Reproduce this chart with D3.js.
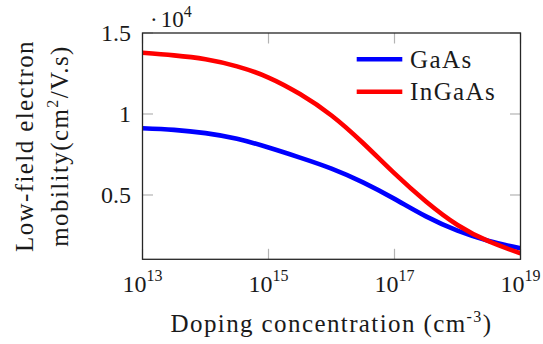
<!DOCTYPE html>
<html>
<head>
<meta charset="utf-8">
<script src="https://cdn.jsdelivr.net/npm/d3@7"></script>
<style>
  html, body { margin: 0; padding: 0; background: #fff; }
  svg { display: block; }
  text { font-family: "Liberation Serif", "DejaVu Serif", serif; fill: #1a1a1a; }
  .lbl { letter-spacing: 1.4px; }
</style>
</head>
<body>
<svg id="chart" width="543" height="344"></svg>
<script>
// ---- data (mobility in units of 10^4 cm^2/V.s) ----
const doping = [1e13, 3.16e13, 1e14, 3.16e14, 1e15, 3.16e15, 1e16, 3.16e16, 1e17, 3.16e17, 1e18, 3.16e18, 1e19];
const gaas   = [0.912, 0.902, 0.882, 0.847, 0.793, 0.731, 0.663, 0.578, 0.476, 0.368, 0.280, 0.216, 0.171];
const ingaas = [1.378, 1.362, 1.338, 1.294, 1.225, 1.123, 0.991, 0.821, 0.633, 0.460, 0.315, 0.213, 0.140];
const seriesNames = ["GaAs", "InGaAs"];
const seriesColors = ["#0000ff", "#ff0000"];
const xTickExps = [13, 15, 17, 19];
const yTicks = [0.5, 1, 1.5];
const yTickLabels = ["0.5", "1", "1.5"];

const m = {left: 142.5, right: 520.5, top: 33, bottom: 259.3};

const svg = d3.select("#chart");
const x = d3.scaleLog().domain([1e13, 1e19]).range([m.left, m.right]);
const y = d3.scaleLinear().domain([0.103, 1.5]).range([m.bottom, m.top]);

svg.append("clipPath").attr("id", "clip")
  .append("rect").attr("x", m.left).attr("y", m.top)
  .attr("width", m.right - m.left).attr("height", m.bottom - m.top);

// ticks (inside, mirrored)
const tickLen = 10.5, tickColor = "#b3b3b3";
const tg = svg.append("g").attr("stroke", tickColor).attr("stroke-width", 1.2);
xTickExps.forEach(e => {
  const px = x(Math.pow(10, e));
  tg.append("line").attr("x1", px).attr("x2", px).attr("y1", m.bottom).attr("y2", m.bottom - tickLen);
  tg.append("line").attr("x1", px).attr("x2", px).attr("y1", m.top).attr("y2", m.top + tickLen);
});
yTicks.forEach(v => {
  const py = y(v);
  tg.append("line").attr("x1", m.left).attr("x2", m.left + tickLen).attr("y1", py).attr("y2", py);
  tg.append("line").attr("x1", m.right).attr("x2", m.right - tickLen).attr("y1", py).attr("y2", py);
});

// curves
const line = d3.line().x((d, i) => x(doping[i])).y(d => y(d)).curve(d3.curveNatural);
const cg = svg.append("g").attr("clip-path", "url(#clip)");
[gaas, ingaas].forEach((s, k) => {
  cg.append("path").datum(s).attr("d", line)
    .attr("fill", "none").attr("stroke", seriesColors[k]).attr("stroke-width", 4.6)
    .attr("stroke-linejoin", "round");
});

// frame
svg.append("rect").attr("x", m.left).attr("y", m.top)
  .attr("width", m.right - m.left).attr("height", m.bottom - m.top)
  .attr("fill", "none").attr("stroke", "#262626").attr("stroke-width", 1.3);

// x tick labels
const fs = 24, sfs = 16, lfs = 25;
xTickExps.forEach(e => {
  const t = svg.append("text").attr("x", x(Math.pow(10, e))).attr("y", 291.7)
    .attr("text-anchor", "middle").attr("font-size", fs);
  t.append("tspan").text("10");
  t.append("tspan").attr("dy", -10.5).attr("font-size", sfs).text(e);
});

// y tick labels
yTicks.forEach((v, i) => {
  svg.append("text").attr("x", 131).attr("y", y(v) + 8)
    .attr("text-anchor", "end").attr("font-size", fs).text(yTickLabels[i]);
});

// multiplier
const mt = svg.append("text").attr("x", 150).attr("y", 26.5).attr("font-size", 23);
mt.append("tspan").text("·");
mt.append("tspan").attr("dx", 3).text("10");
mt.append("tspan").attr("dy", -10).attr("font-size", 16).text("4");

// x axis label
const xl = svg.append("text").attr("class", "lbl").attr("x", 331.5).attr("y", 332)
  .attr("text-anchor", "middle").attr("font-size", lfs);
xl.append("tspan").text("Doping concentration (cm");
xl.append("tspan").attr("dy", -10).attr("font-size", sfs).text("-3");
xl.append("tspan").attr("dy", 10).text(")");

// y axis label (two lines, rotated)
const cy = 146;
svg.append("text").attr("class", "lbl").attr("transform", `translate(33,${cy}) rotate(-90)`)
  .attr("text-anchor", "middle").attr("font-size", lfs).text("Low-field electron");
const yl = svg.append("text").attr("class", "lbl").attr("transform", `translate(68,${cy}) rotate(-90)`)
  .attr("text-anchor", "middle").attr("font-size", lfs);
yl.append("tspan").text("mobility(cm");
yl.append("tspan").attr("dy", -10).attr("font-size", sfs).text("2");
yl.append("tspan").attr("dy", 10).text("/V.s)");

// legend
seriesNames.forEach((n, k) => {
  const ly = [59.3, 91.7][k];
  svg.append("line").attr("x1", 356.7).attr("x2", 402.3).attr("y1", ly).attr("y2", ly)
    .attr("stroke", seriesColors[k]).attr("stroke-width", 4.6);
  svg.append("text").attr("class", "lbl").attr("x", 410).attr("y", ly + 8.2)
    .attr("font-size", lfs).text(n);
});
</script>
</body>
</html>
